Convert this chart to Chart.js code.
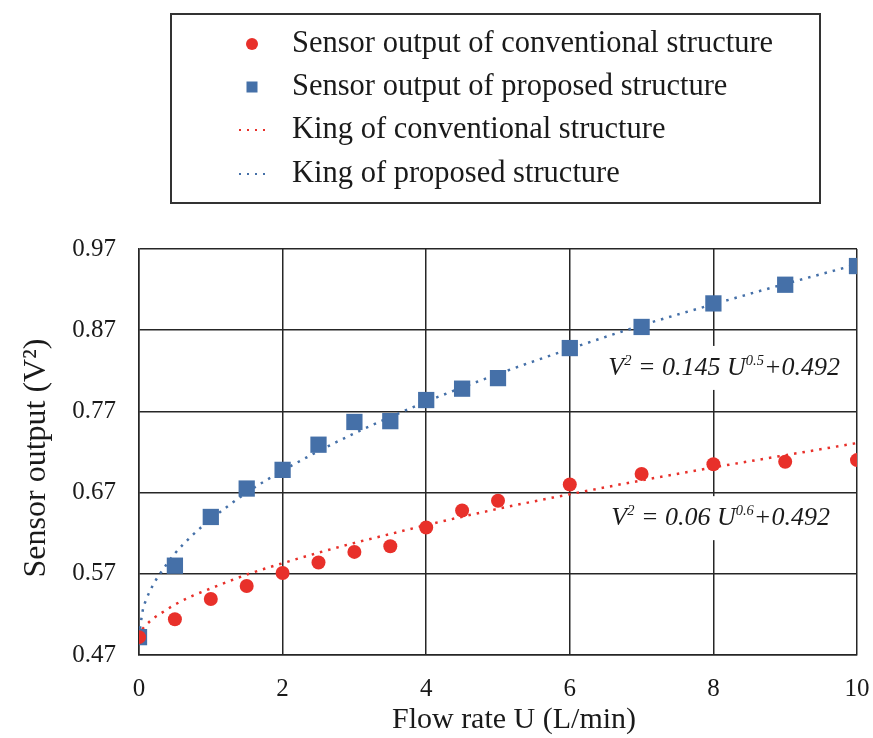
<!DOCTYPE html>
<html>
<head>
<meta charset="utf-8">
<title>Sensor output vs flow rate</title>
<script src="https://cdn.jsdelivr.net/npm/chart.js@4/dist/chart.umd.min.js"></script>
<style>
  html, body { margin: 0; padding: 0; background: #fff; }
  #chart { display: block; }
</style>
</head>
<body>
<canvas id="chart" width="873" height="738"></canvas>
<script>
// Measured sensor output (V^2) against flow rate U (L/min)
const flowRates = [0, 0.5, 1, 1.5, 2, 2.5, 3, 3.5, 4, 4.5, 5, 6, 7, 8, 9, 10];
const conventionalOutput = [0.492, 0.514, 0.539, 0.555, 0.571, 0.584, 0.597, 0.604, 0.627, 0.648, 0.660, 0.680, 0.693, 0.705, 0.708, 0.710];
const proposedOutput = [0.492, 0.580, 0.640, 0.675, 0.698, 0.729, 0.757, 0.758, 0.784, 0.798, 0.811, 0.848, 0.874, 0.903, 0.926, 0.949];

// King's law fit curves, sampled along the flow axis
const fitRates = [0, 0.05, 0.1, 0.2, 0.3, 0.5, 0.75, 1, 1.5, 2, 2.5, 3, 3.5, 4, 5, 6, 7, 8, 9, 10];
const kingConventional = [0.492, 0.502, 0.507, 0.515, 0.521, 0.532, 0.543, 0.552, 0.569, 0.583, 0.596, 0.608, 0.619, 0.630, 0.650, 0.668, 0.685, 0.701, 0.716, 0.731];
const kingProposed = [0.492, 0.524, 0.538, 0.557, 0.571, 0.595, 0.618, 0.637, 0.670, 0.697, 0.721, 0.743, 0.763, 0.782, 0.816, 0.847, 0.876, 0.902, 0.927, 0.951];

const seriesLabels = [
    'Sensor output of conventional structure',
    'Sensor output of proposed structure',
    'King of conventional structure',
    'King of proposed structure'
];
const yTicks = [0.47, 0.57, 0.67, 0.77, 0.87, 0.97];
const xTitle = 'Flow rate U (L/min)';
const yTitle = 'Sensor output (V\u00B2)';

// Equations printed next to each fit, placed at (U, V^2)
const fitNotes = [
    { coef: '0.145', exp: '0.5', offset: '+0.492', at: [8.15, 0.826] },
    { coef: '0.06', exp: '0.6', offset: '+0.492', at: [8.1, 0.641] }
];

const RED = '#e8302a';
const BLUE = '#4570a8';
const SERIF = "'Liberation Serif', 'Times New Roman', serif";
const INK = '#1a1a1a';
const GRID = '#262626';

const toPoints = (xs, ys) => xs.map((x, i) => ({ x: x, y: ys[i] }));

// Boxed legend above the plot
const legendBox = {
    id: 'legendBox',
    afterDraw(chart) {
        const ctx = chart.ctx;
        ctx.save();
        ctx.strokeStyle = '#333';
        ctx.lineWidth = 2;
        ctx.strokeRect(171, 14, 649, 189);
        const rows = [44, 87, 130, 174];
        chart.data.datasets.forEach((ds, i) => {
            const y = rows[i];
            const mx = 252;
            if (ds.showLine) {
                ctx.fillStyle = ds.borderColor;
                for (let k = 0; k < 4; k++) {
                    ctx.fillRect(239 + k * 8, y - 1, 2, 2);
                }
            } else if (ds.pointStyle === 'rect') {
                ctx.fillStyle = ds.backgroundColor;
                ctx.fillRect(mx - 5.5, y - 5.5, 11, 11);
            } else {
                ctx.fillStyle = ds.backgroundColor;
                ctx.beginPath();
                ctx.arc(mx, y, 6, 0, Math.PI * 2);
                ctx.fill();
            }
            ctx.fillStyle = INK;
            ctx.font = '30.5px ' + SERIF;
            ctx.textBaseline = 'middle';
            ctx.textAlign = 'left';
            ctx.fillText(ds.label, 292, y);
        });
        ctx.restore();
    }
};

// Axis titles
const axisTitles = {
    id: 'axisTitles',
    afterDraw(chart) {
        const ctx = chart.ctx;
        ctx.save();
        ctx.fillStyle = INK;
        ctx.textAlign = 'center';
        ctx.textBaseline = 'alphabetic';
        ctx.font = '30px ' + SERIF;
        ctx.fillText(xTitle, 514, 728);
        ctx.translate(45, 458);
        ctx.rotate(-Math.PI / 2);
        ctx.font = '32px ' + SERIF;
        ctx.fillText(yTitle, 0, 0);
        ctx.restore();
    }
};

// Fit equations with a white backing over the grid
const equationLabels = {
    id: 'equationLabels',
    beforeDatasetsDraw(chart) {
        const ctx = chart.ctx;
        const xs = chart.scales.x;
        const ys = chart.scales.y;
        const big = 'italic 26px ' + SERIF;
        const small = 'italic 14.5px ' + SERIF;
        ctx.save();
        fitNotes.forEach(note => {
            const parts = [
                { t: 'V', f: big, dy: 0 },
                { t: '2', f: small, dy: -10 },
                { t: ' = ' + note.coef + ' U', f: big, dy: 0 },
                { t: note.exp, f: small, dy: -10 },
                { t: note.offset, f: big, dy: 0 }
            ];
            let width = 0;
            parts.forEach(p => { ctx.font = p.f; p.w = ctx.measureText(p.t).width; width += p.w; });
            const cx = xs.getPixelForValue(note.at[0]);
            const base = ys.getPixelForValue(note.at[1]) + 9;
            ctx.fillStyle = '#fff';
            ctx.fillRect(cx - width / 2 - 6, base - 29, width + 12, 44);
            let x = cx - width / 2;
            ctx.fillStyle = INK;
            ctx.textBaseline = 'alphabetic';
            ctx.textAlign = 'left';
            parts.forEach(p => {
                ctx.font = p.f;
                ctx.fillText(p.t, x, base + p.dy);
                x += p.w;
            });
        });
        ctx.restore();
    }
};

new Chart(document.getElementById('chart'), {
    type: 'scatter',
    data: {
        datasets: [
            {
                label: seriesLabels[0],
                data: toPoints(flowRates, conventionalOutput),
                pointStyle: 'circle',
                pointRadius: 7,
                backgroundColor: RED,
                borderColor: RED,
                borderWidth: 0
            },
            {
                label: seriesLabels[1],
                data: toPoints(flowRates, proposedOutput),
                pointStyle: 'rect',
                pointRadius: 11.5,
                backgroundColor: BLUE,
                borderColor: BLUE,
                borderWidth: 0
            },
            {
                label: seriesLabels[2],
                data: toPoints(fitRates, kingConventional),
                showLine: true,
                pointRadius: 0,
                borderColor: RED,
                borderWidth: 2.5,
                borderDash: [2.5, 6],
                cubicInterpolationMode: 'monotone'
            },
            {
                label: seriesLabels[3],
                data: toPoints(fitRates, kingProposed),
                showLine: true,
                pointRadius: 0,
                borderColor: BLUE,
                borderWidth: 2.5,
                borderDash: [2.5, 6],
                cubicInterpolationMode: 'monotone'
            }
        ]
    },
    options: {
        responsive: false,
        animation: false,
        devicePixelRatio: 1,
        layout: { padding: { top: 249, right: 16, left: 0, bottom: 0 } },
        plugins: {
            legend: { display: false },
            tooltip: { enabled: false }
        },
        scales: {
            x: {
                type: 'linear',
                min: 0,
                max: 10,
                afterFit: (scale) => {
                    scale.height = 83;
                    scale.paddingLeft = 0;
                    scale.paddingRight = 0;
                },
                ticks: {
                    stepSize: 2,
                    padding: 19,
                    color: INK,
                    font: { family: SERIF, size: 25 }
                },
                grid: { color: GRID, lineWidth: 1.5, drawTicks: false },
                border: { color: GRID, width: 1.5 }
            },
            y: {
                type: 'linear',
                min: 0.47,
                max: 0.97,
                afterFit: (scale) => {
                    scale.width = 139;
                    scale.paddingTop = 0;
                    scale.paddingBottom = 0;
                },
                afterBuildTicks: (scale) => { scale.ticks = yTicks.map(v => ({ value: v })); },
                ticks: {
                    padding: 23,
                    color: INK,
                    font: { family: SERIF, size: 25 },
                    callback: (v) => v.toFixed(2)
                },
                grid: { color: GRID, lineWidth: 1.5, drawTicks: false },
                border: { color: GRID, width: 1.5 }
            }
        }
    },
    plugins: [legendBox, axisTitles, equationLabels]
});
</script>
</body>
</html>
